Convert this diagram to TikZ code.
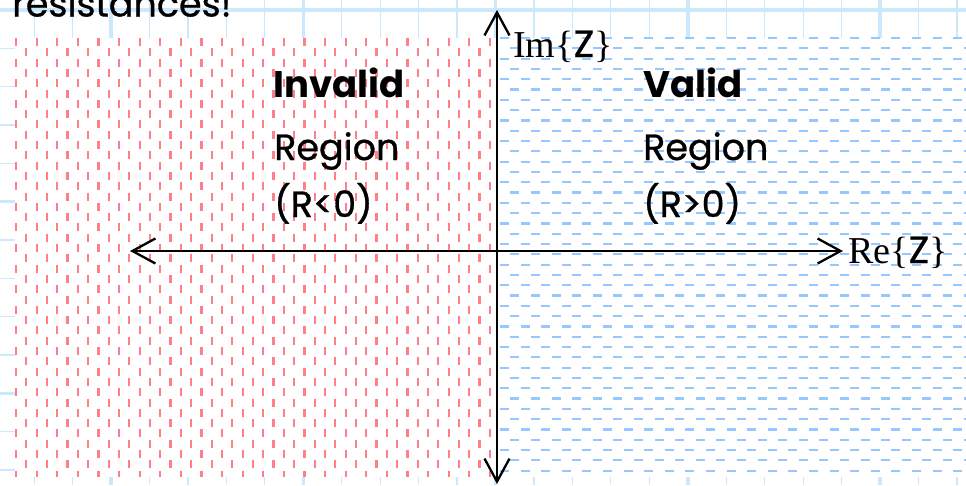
\documentclass[tikz,border=0pt]{standalone}
\usepackage{fontspec}
\setmainfont{Liberation Serif}
\newfontfamily\comic[FakeBold=0.8]{Poppins}
\newfontfamily\comicb{Poppins Bold}
\usetikzlibrary{arrows.meta}
\definecolor{gridblue}{RGB}{204,232,252}
\definecolor{dashred}{RGB}{255,128,136}
\definecolor{dashblue}{RGB}{150,200,255}
\begin{document}
\begin{tikzpicture}[x=1pt,y=-1pt,
  gridthin/.style={draw=gridblue,line width=1.2pt},
  gridthick/.style={draw=gridblue,line width=3.5pt},
  reddash/.style={draw=dashred,line width=2.2pt,dash pattern=on 8pt off 12.6pt},
  bluedash/.style={draw=dashblue,line width=2.2pt,dash pattern=on 9pt off 11.6pt},
  axis/.style={line width=2.3pt,{Straight Barb[length=23pt,width=25pt]}-{Straight Barb[length=23pt,width=25pt]}},
  lbl/.style={inner sep=0pt,anchor=base west,font=\comic\fontsize{36.5}{40}\selectfont},
  blbl/.style={inner sep=0pt,anchor=base west,font=\comicb\fontsize{37}{40}\selectfont},
  axlbl/.style={inner sep=0pt,anchor=base west,font=\fontsize{38}{40}\selectfont}]
\clip (0,0) rectangle (966,485);
\fill[white] (0,0) rectangle (966,485);
% graph-paper grid
\foreach \k in {-2,...,22}{\draw[gridthin] ({111+38.45*\k},0) -- ({111+38.45*\k},485);}
\foreach \k in {0,...,4}{\draw[gridthick] ({111+192.25*\k},0) -- ({111+192.25*\k},485);}
\foreach \k in {0,...,12}{\draw[gridthin] (0,{10+38.33*\k}) -- (966,{10+38.33*\k});}
\foreach \k in {0,1,2}{\draw[gridthick] (0,{10+191.65*\k}) -- (966,{10+191.65*\k});}
% shaded regions
\fill[white] (15,37.5) rectangle (966,477);
\foreach \i in {0,...,46}{
  \pgfmathsetmacro\ph{mod(\i,2)*10.3}
  \draw[reddash,dash phase=\ph pt] ({16+10.3*\i},38) -- ({16+10.3*\i},477);}
\foreach \j in {0,...,42}{
  \pgfmathsetmacro\ph{mod(\j,2)*10.3}
  \draw[bluedash,dash phase=\ph pt] (500,{38+10.3*\j}) -- (966,{38+10.3*\j});}
% top text
\node[lbl] (top) at (12,16.5) {resistances!};
% region labels
\node[blbl] (inv) at (273,97) {Invalid};
\node[lbl] (reg1) at (274,160) {Region};
\node[lbl] (rlt) at (274,217) {(R<0)};
\node[blbl] (val) at (643,97) {Valid};
\node[lbl] (reg2) at (643,160) {Region};
\node[lbl] (rgt) at (643,217) {(R>0)};
% axes
\coordinate (T) at (497,10);
\coordinate (B) at (497,484);
\coordinate (L) at (130,251);
\coordinate (R) at (843,251);
\draw[axis] (L) -- (R);
\draw[axis] (B) -- (T);
\node[axlbl] (im) at (513,57) {Im\{{\comic Z}\}};
\node[axlbl] (re) at (848,263) {Re\{{\comic Z}\}};
\end{tikzpicture}
\end{document}
